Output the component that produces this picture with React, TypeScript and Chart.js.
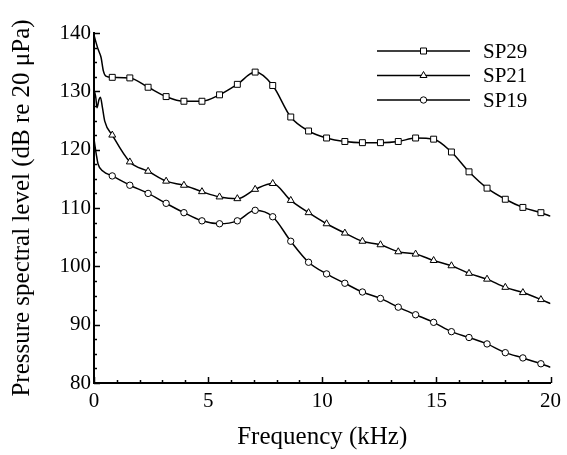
import React, { useEffect, useRef } from 'react';
import { Chart, registerables } from 'chart.js';

Chart.register(...registerables);

// ---------- data ----------
const seriesNames = ['SP29', 'SP21', 'SP19'];
const seriesMarkers = ['rect', 'triangle', 'circle'];

// frequencies (kHz) at which markers are drawn (shared by all series)
const markerFreq = [
  0.8, 1.57, 2.37, 3.16, 3.94, 4.73, 5.5, 6.28, 7.06, 7.83, 8.62, 9.4, 10.19,
  10.99, 11.76, 12.55, 13.33, 14.09, 14.88, 15.66, 16.43, 17.22, 18.02, 18.79, 19.58,
];
const sp29Level = [
  132.4, 132.3, 130.7, 129.1, 128.3, 128.3, 129.4, 131.2, 133.3, 131.0, 125.6, 123.2, 122.0,
  121.4, 121.2, 121.2, 121.4, 122.0, 121.8, 119.6, 116.2, 113.4, 111.5, 110.1, 109.2,
];
const sp21Level = [
  122.5, 117.9, 116.3, 114.6, 113.9, 112.8, 111.9, 111.6, 113.2, 114.2, 111.3, 109.2, 107.3,
  105.7, 104.3, 103.7, 102.5, 102.1, 101.0, 100.1, 98.8, 97.8, 96.4, 95.5, 94.3,
];
const sp19Level = [
  115.5, 113.9, 112.5, 110.8, 109.2, 107.8, 107.3, 107.8, 109.6, 108.5, 104.3, 100.7, 98.7,
  97.1, 95.6, 94.5, 93.0, 91.7, 90.4, 88.8, 87.8, 86.7, 85.2, 84.3, 83.3,
];

// unmarked line points before the first marker
const sp29HeadFreq = [0, 0.18, 0.31, 0.41, 0.52];
const sp29HeadLevel = [139.6, 137.2, 135.8, 133.5, 132.6];
const sp21HeadFreq = [0, 0.08, 0.13, 0.22, 0.28, 0.37, 0.47];
const sp21HeadLevel = [130.3, 128.9, 127.2, 128.6, 129.0, 127.2, 124.9];
const sp19HeadFreq = [0, 0.1, 0.18, 0.4];
const sp19HeadLevel = [121.8, 119.2, 117.5, 116.3];

// line end at the right edge
const endFreq = 20;
const endLevel = [108.6, 93.6, 82.7];

// axes
const xMin = 0;
const xMax = 20;
const xMajorStep = 5;
const xMinorStep = 1;
const yMin = 80;
const yMax = 140;
const yMajorStep = 10;
const yMinorStep = 2.5;
const xTitle = 'Frequency (kHz)';
const yTitle = 'Pressure spectral level (dB re 20 μPa)';

const FONT = '"Liberation Serif", "Times New Roman", serif';

function pts(fx: number[], fy: number[]) {
  return fx.map((x, i) => ({ x, y: fy[i] }));
}

function drawMarker(ctx: CanvasRenderingContext2D, style: string, x: number, y: number) {
  ctx.beginPath();
  if (style === 'rect') {
    const s = 3;
    ctx.rect(x - s, y - s, 2 * s, 2 * s);
  } else if (style === 'triangle') {
    const r = 4;
    ctx.moveTo(x, y - r);
    ctx.lineTo(x + r * 0.866, y + r * 0.5);
    ctx.lineTo(x - r * 0.866, y + r * 0.5);
    ctx.closePath();
  } else {
    ctx.arc(x, y, 3.2, 0, Math.PI * 2);
  }
  ctx.fillStyle = '#fff';
  ctx.fill();
  ctx.lineWidth = 1;
  ctx.strokeStyle = '#000';
  ctx.stroke();
}

const innerTicksPlugin = {
  id: 'innerTicks',
  afterDraw(chart: any) {
    const { ctx, chartArea, scales } = chart;
    const xs = scales.x;
    const ys = scales.y;
    ctx.save();
    ctx.strokeStyle = '#000';
    ctx.lineWidth = 1.5;
    for (let v = xMin; v <= xMax + 1e-9; v += xMinorStep) {
      const px = Math.round(xs.getPixelForValue(v)) + 0.5;
      const major = Math.abs(v / xMajorStep - Math.round(v / xMajorStep)) < 1e-6;
      const len = major ? 6 : 3;
      ctx.beginPath();
      ctx.moveTo(px, chartArea.bottom);
      ctx.lineTo(px, chartArea.bottom - len);
      ctx.stroke();
    }
    for (let v = yMin; v <= yMax + 1e-9; v += yMinorStep) {
      const py = Math.round(ys.getPixelForValue(v)) + 0.5;
      const major = Math.abs(v / yMajorStep - Math.round(v / yMajorStep)) < 1e-6;
      const len = major ? 6 : 3;
      ctx.beginPath();
      ctx.moveTo(chartArea.left, py);
      ctx.lineTo(chartArea.left + len, py);
      ctx.stroke();
    }
    ctx.restore();
  },
};

const legendPlugin = {
  id: 'lineLegend',
  afterDraw(chart: any) {
    const { ctx, chartArea } = chart;
    const x0 = chartArea.left + 283;
    const x1 = chartArea.left + 376;
    const top = chartArea.top + 18;
    const rowH = 24.5;
    ctx.save();
    seriesNames.forEach((name, i) => {
      const y = top + i * rowH;
      ctx.beginPath();
      ctx.moveTo(x0, y);
      ctx.lineTo(x1, y);
      ctx.lineWidth = 1.4;
      ctx.strokeStyle = '#000';
      ctx.stroke();
      drawMarker(ctx, seriesMarkers[i], (x0 + x1) / 2, y);
      ctx.fillStyle = '#000';
      ctx.font = `21px ${FONT}`;
      ctx.textBaseline = 'middle';
      ctx.textAlign = 'left';
      ctx.fillText(name, x1 + 13, y + 1);
    });
    ctx.restore();
  },
};

export default function App() {
  const ref = useRef<HTMLCanvasElement | null>(null);

  useEffect(() => {
    if (!ref.current) return;
    const heads = [
      [sp29HeadFreq, sp29HeadLevel],
      [sp21HeadFreq, sp21HeadLevel],
      [sp19HeadFreq, sp19HeadLevel],
    ];
    const levels = [sp29Level, sp21Level, sp19Level];
    const datasets: any[] = [];
    levels.forEach((lv, i) => {
      const line = [
        ...pts(heads[i][0], heads[i][1]),
        ...pts(markerFreq, lv),
        { x: endFreq, y: endLevel[i] },
      ];
      datasets.push({
        label: seriesNames[i] + ' line',
        data: line,
        showLine: true,
        borderColor: '#000',
        borderWidth: 1.5,
        pointRadius: 0,
        cubicInterpolationMode: 'monotone',
        order: 2,
      });
    });
    levels.forEach((lv, i) => {
      datasets.push({
        label: seriesNames[i],
        data: pts(markerFreq, lv),
        showLine: false,
        pointStyle: seriesMarkers[i],
        pointRadius: seriesMarkers[i] === 'rect' ? 4.2 : seriesMarkers[i] === 'triangle' ? 4 : 3.2,
        pointBackgroundColor: '#fff',
        pointBorderColor: '#000',
        pointBorderWidth: 1,
        order: 1,
      });
    });

    const chart = new Chart(ref.current, {
      type: 'scatter',
      data: { datasets },
      options: {
        animation: false,
        responsive: false,
        events: [],
        layout: { padding: { top: 33, right: 15, left: 0, bottom: 0 } },
        plugins: { legend: { display: false }, tooltip: { enabled: false } },
        scales: {
          x: {
            type: 'linear',
            min: xMin,
            max: xMax,
            afterFit: (s: any) => {
              s.height = 72;
            },
            ticks: {
              stepSize: xMajorStep,
              color: '#000',
              padding: 6,
              font: { family: FONT, size: 21 },
              maxRotation: 0,
            },
            grid: { display: false, drawTicks: false },
            border: { display: true, color: '#000', width: 2 },
            title: {
              display: true,
              text: xTitle,
              color: '#000',
              font: { family: FONT, size: 25 },
              padding: { top: 0, bottom: 3 },
            },
          },
          y: {
            type: 'linear',
            min: yMin,
            max: yMax,
            afterFit: (s: any) => {
              s.width = 94;
            },
            ticks: {
              stepSize: yMajorStep,
              color: '#000',
              padding: 3,
              font: { family: FONT, size: 21 },
            },
            grid: { display: false, drawTicks: false },
            border: { display: true, color: '#000', width: 2 },
            title: {
              display: true,
              text: yTitle,
              color: '#000',
              font: { family: FONT, size: 25 },
              padding: { top: 7, bottom: 0 },
            },
          },
        },
      },
      plugins: [innerTicksPlugin, legendPlugin],
    });
    return () => chart.destroy();
  }, []);

  return (
    <div style={{ position: 'absolute', left: 0, top: 0, width: 567, height: 455, background: '#fff' }}>
      <canvas ref={ref} width={567} height={455} />
    </div>
  );
}
